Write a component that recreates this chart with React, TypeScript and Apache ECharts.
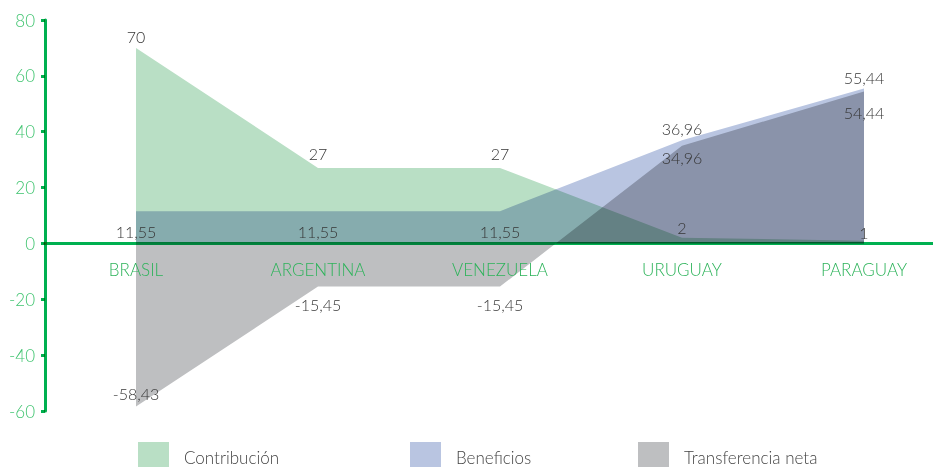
import React, { useEffect, useRef } from "react";
import * as echarts from "echarts";

const categories = ["BRASIL", "ARGENTINA", "VENEZUELA", "URUGUAY", "PARAGUAY"];
const contribucion = [70, 27, 27, 2, 1];
const beneficios = [11.55, 11.55, 11.55, 36.96, 55.44];
const transferencia = [-58.43, -15.45, -15.45, 34.96, 54.44];
const yTicks = { min: -60, max: 80, interval: 20 };

const GREEN = "#b9dfc5";
const BLUE = "#b9c5e1";
const GRAY = "#bebfc1";
const AXIS_GREEN = "#00b050";
const FONT = "Lato, 'Open Sans', sans-serif";

const GRID = { left: 45, width: 910, top: 20, bottom: 56 };
const H = 467;

const fmt = (p: any) => String(p.value).replace(".", ",");

function buildSeries(name: string, values: number[], color: string, pos: string[], dist: number[]) {
  return {
    name,
    type: "line",
    clip: false,
    data: values.map((v, i) => ({ value: v, label: { position: pos[i], distance: dist[i] } })),
    symbol: "circle",
    symbolSize: 1,
    itemStyle: { color: "rgba(0,0,0,0)" },
    lineStyle: { width: 0, opacity: 0 },
    areaStyle: { color, opacity: 1 },
    label: {
      show: true,
      color: "#363636",
      fontSize: 16,
      fontFamily: FONT,
      fontWeight: 300,
      formatter: fmt,
    },
    emphasis: { disabled: true },
  };
}

export default function App() {
  const ref = useRef<HTMLDivElement>(null);
  useEffect(() => {
    if (!ref.current) return;
    const chart = echarts.init(ref.current, undefined, { renderer: "svg" });
    const legendText = { color: "#444", fontSize: 17, fontFamily: FONT, fontWeight: 300, padding: [0, 0, 0, 10] };
    const mkLegend = (name: string, color: string, left: number) => ({
      data: [{ name, itemStyle: { color, opacity: 1 } }],
      left,
      top: 442,
      padding: 0,
      icon: "rect",
      itemWidth: 31,
      itemHeight: 31,
      selectedMode: false,
      textStyle: legendText,
    });
    const gridH = H - GRID.top - GRID.bottom;
    const zeroOffset = (gridH * (0 - yTicks.min)) / (yTicks.max - yTicks.min);
    chart.setOption({
      animation: false,
      grid: { ...GRID, outerBoundsMode: "none", containLabel: false },
      legend: [mkLegend("Contribución", GREEN, 138), mkLegend("Beneficios", BLUE, 410), mkLegend("Transferencia neta", GRAY, 638)],
      xAxis: {
        type: "category",
        data: categories,
        boundaryGap: true,
        z: 5,
        offset: -zeroOffset,
        axisLine: { onZero: false, lineStyle: { color: AXIS_GREEN, width: 3 } },
        axisTick: { show: false },
        axisLabel: { color: "#2db35a", fontSize: 17, fontFamily: FONT, fontWeight: 300, margin: 18 },
        splitLine: { show: false },
      },
      yAxis: {
        type: "value",
        min: yTicks.min,
        max: yTicks.max,
        interval: yTicks.interval,
        axisLine: { show: true, lineStyle: { color: AXIS_GREEN, width: 3 } },
        axisTick: { show: true, length: 4, lineStyle: { color: AXIS_GREEN, width: 3 } },
        axisLabel: { color: "#40c470", fontSize: 17, fontFamily: FONT, fontWeight: 300, margin: 10 },
        splitLine: { show: false },
      },
      series: [
        buildSeries("Contribución", contribucion, GREEN, ["top", "top", "top", "top", "top"], [3, 6, 6, 2, 0]),
        buildSeries("Beneficios", beneficios, BLUE, ["bottom", "bottom", "bottom", "top", "top"], [12, 12, 12, 3, 3]),
        buildSeries("Transferencia neta", transferencia, GRAY, ["top", "bottom", "bottom", "bottom", "bottom"], [5, 9, 9, 3, 13]),
      ],
    });
    // let the overlapping areas blend (multiply) like the original chart
    const svg = ref.current.querySelector("svg");
    if (svg) svg.querySelectorAll("g[clip-path]").forEach((g) => g.removeAttribute("clip-path"));
    return () => chart.dispose();
  }, []);
  return (
    <>
      <style>{`.mbchart path{mix-blend-mode:multiply;}`}</style>
      <div
        ref={ref}
        className="mbchart"
        style={{ position: "absolute", left: 0, top: 0, width: 933, height: 467, background: "#fff" }}
      />
    </>
  );
}
